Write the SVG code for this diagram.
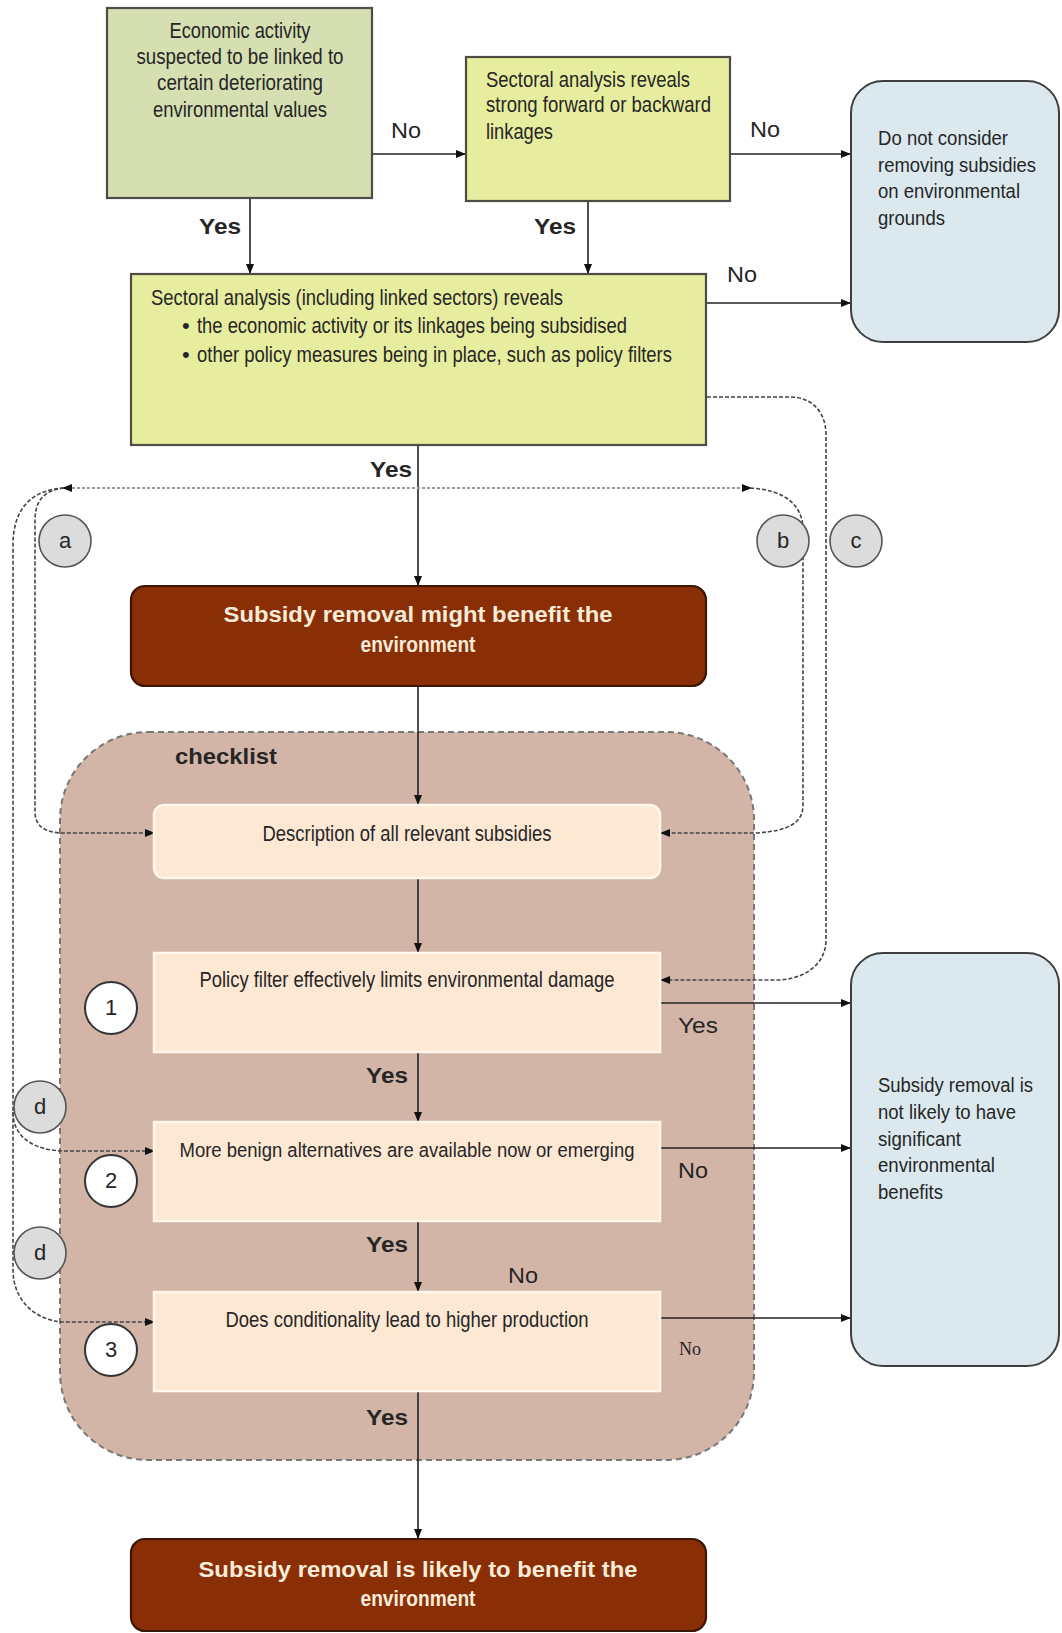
<svg xmlns="http://www.w3.org/2000/svg" width="1062" height="1633" viewBox="0 0 1062 1633">
<defs>
<marker id="ah" viewBox="0 0 10 10" refX="10" refY="5" markerWidth="11" markerHeight="10" markerUnits="userSpaceOnUse" orient="auto-start-reverse"><path d="M0,1 L10,5 L0,9 z" fill="#111"/></marker>
<style>
text{font-family:"Liberation Sans Narrow","Liberation Sans",Arial,sans-serif;fill:#262626;font-size:22px}
.s{font-size:20px}
.b{font-weight:bold}
.w{fill:#f7ecd9;font-weight:bold}
.m{text-anchor:middle}
.ln{fill:none;stroke:#222;stroke-width:1.6}
.dl{fill:none;stroke:#444;stroke-width:1.6;stroke-dasharray:4 2}
.dt{fill:none;stroke:#9a9a9a;stroke-width:2.2;stroke-dasharray:3 2}
.grn{fill:#d5dfb1;stroke:#4d4d45;stroke-width:2.2}
.ylw{fill:#e7ed9e;stroke:#4d4d45;stroke-width:2.2}
.blu{fill:#dbe9ef;stroke:#3f3f3f;stroke-width:2}
.brn{fill:#8a2f05;stroke:#3a1606;stroke-width:2.2}
.pch{fill:#fde8d4;stroke:#fff6ec;stroke-width:2.5}
.ca{fill:#dcdcdc;stroke:#555;stroke-width:1.6}
.cn{fill:#ffffff;stroke:#333;stroke-width:2}
</style>
</defs>
<rect width="1062" height="1633" fill="#ffffff"/>

<g id="checklist">
<rect x="60" y="732" width="694" height="728" rx="88" ry="88" fill="#d3b5a8" stroke="#777" stroke-width="2" stroke-dasharray="6 4"/>
<text class="b" x="175" y="764" textLength="102" lengthAdjust="spacingAndGlyphs">checklist</text>
</g>

<g id="connectors">
<path class="ln" d="M372 154 H466" marker-end="url(#ah)"/>
<path class="ln" d="M730 154 H851" marker-end="url(#ah)"/>
<path class="ln" d="M250 198 V274" marker-end="url(#ah)"/>
<path class="ln" d="M588 201 V274" marker-end="url(#ah)"/>
<path class="ln" d="M706 303 H851" marker-end="url(#ah)"/>
<path class="ln" d="M418 445 V586" marker-end="url(#ah)"/>
<path class="ln" d="M418 686 V805" marker-end="url(#ah)"/>
<path class="ln" d="M418 878 V953" marker-end="url(#ah)"/>
<path class="ln" d="M418 1052 V1122" marker-end="url(#ah)"/>
<path class="ln" d="M418 1221 V1292" marker-end="url(#ah)"/>
<path class="ln" d="M418 1391 V1539" marker-end="url(#ah)"/>
<path class="ln" d="M660 1003 H851" marker-end="url(#ah)"/>
<path class="ln" d="M660 1148 H851" marker-end="url(#ah)"/>
<path class="ln" d="M660 1318 H851" marker-end="url(#ah)"/>
<path class="dt" d="M62 488 H752" marker-start="url(#ah)" marker-end="url(#ah)"/>
<path class="dl" d="M64 488 C45 490 35 500 35 520 V812 C35 826 45 833 64 833 H155" marker-end="url(#ah)"/>
<path class="dl" d="M64 488 C30 490 13 510 13 545 V1270 C13 1300 35 1320 62 1322 H155" marker-end="url(#ah)"/>
<path class="dl" d="M13 1112 C13 1138 35 1150 62 1151 H155" marker-end="url(#ah)"/>
<path class="dl" d="M750 488 C785 490 803 505 803 530 V805 C803 822 790 831 756 833 H660" marker-end="url(#ah)"/>
<path class="dl" d="M707 397 H790 C812 397 826 412 826 435 V940 C826 962 808 978 780 980 H660" marker-end="url(#ah)"/>
</g>

<g id="n-economic">
<rect class="grn" x="107" y="8" width="265" height="190"/>
<text class="m" x="240" y="38" textLength="141" lengthAdjust="spacingAndGlyphs">Economic activity</text>
<text class="m" x="240" y="64" textLength="207" lengthAdjust="spacingAndGlyphs">suspected to be linked to</text>
<text class="m" x="240" y="90" textLength="166" lengthAdjust="spacingAndGlyphs">certain deteriorating</text>
<text class="m" x="240" y="117" textLength="174" lengthAdjust="spacingAndGlyphs">environmental values</text>
</g>

<g id="n-linkages">
<rect class="ylw" x="466" y="57" width="264" height="144"/>
<text x="486" y="87" textLength="204" lengthAdjust="spacingAndGlyphs">Sectoral analysis reveals</text>
<text x="486" y="112" textLength="225" lengthAdjust="spacingAndGlyphs">strong forward or backward</text>
<text x="486" y="139" textLength="67" lengthAdjust="spacingAndGlyphs">linkages</text>
</g>

<g id="n-donot">
<rect class="blu" x="851" y="81" width="208" height="261" rx="32" ry="32"/>
<text class="s" x="878" y="145" textLength="130" lengthAdjust="spacingAndGlyphs">Do not consider</text>
<text class="s" x="878" y="172" textLength="158" lengthAdjust="spacingAndGlyphs">removing subsidies</text>
<text class="s" x="878" y="198" textLength="142" lengthAdjust="spacingAndGlyphs">on environmental</text>
<text class="s" x="878" y="225" textLength="67" lengthAdjust="spacingAndGlyphs">grounds</text>
</g>

<g id="n-sectoral">
<rect class="ylw" x="131" y="274" width="575" height="171"/>
<text x="151" y="305" textLength="412" lengthAdjust="spacingAndGlyphs">Sectoral analysis (including linked sectors) reveals</text>
<text x="182" y="333">•</text>
<text x="197" y="333" textLength="430" lengthAdjust="spacingAndGlyphs">the economic activity or its linkages being subsidised</text>
<text x="182" y="362">•</text>
<text x="197" y="362" textLength="475" lengthAdjust="spacingAndGlyphs">other policy measures being in place, such as policy filters</text>
</g>

<g id="n-might">
<rect class="brn" x="131" y="586" width="575" height="100" rx="14" ry="14"/>
<text class="w m" x="418" y="622" textLength="389" lengthAdjust="spacingAndGlyphs">Subsidy removal might benefit the</text>
<text class="w m" x="418" y="652" textLength="115" lengthAdjust="spacingAndGlyphs">environment</text>
</g>

<g id="n-description">
<rect class="pch" x="154" y="805" width="506" height="73" rx="10" ry="10"/>
<text class="m" x="407" y="841" textLength="289" lengthAdjust="spacingAndGlyphs">Description of all relevant subsidies</text>
</g>

<g id="n-policy">
<rect class="pch" x="154" y="953" width="506" height="99"/>
<text class="m" x="407" y="987" textLength="415" lengthAdjust="spacingAndGlyphs">Policy filter effectively limits environmental damage</text>
</g>

<g id="n-benign">
<rect class="pch" x="154" y="1122" width="506" height="99"/>
<text class="m s" x="407" y="1157" textLength="455" lengthAdjust="spacingAndGlyphs">More benign alternatives are available now or emerging</text>
</g>

<g id="n-conditionality">
<rect class="pch" x="154" y="1292" width="506" height="99"/>
<text class="m" x="407" y="1327" textLength="363" lengthAdjust="spacingAndGlyphs">Does conditionality lead to higher production</text>
</g>

<g id="n-notlikely">
<rect class="blu" x="851" y="953" width="208" height="413" rx="32" ry="32"/>
<text class="s" x="878" y="1092" textLength="155" lengthAdjust="spacingAndGlyphs">Subsidy removal is</text>
<text class="s" x="878" y="1119" textLength="138" lengthAdjust="spacingAndGlyphs">not likely to have</text>
<text class="s" x="878" y="1146" textLength="83" lengthAdjust="spacingAndGlyphs">significant</text>
<text class="s" x="878" y="1172" textLength="117" lengthAdjust="spacingAndGlyphs">environmental</text>
<text class="s" x="878" y="1199" textLength="65" lengthAdjust="spacingAndGlyphs">benefits</text>
</g>

<g id="n-likely">
<rect class="brn" x="131" y="1539" width="575" height="92" rx="14" ry="14"/>
<text class="w m" x="418" y="1577" textLength="439" lengthAdjust="spacingAndGlyphs">Subsidy removal is likely to benefit the</text>
<text class="w m" x="418" y="1606" textLength="115" lengthAdjust="spacingAndGlyphs">environment</text>
</g>

<g id="circle-a"><circle class="ca" cx="65" cy="541" r="26"/><text class="m" x="65" y="548" font-size="20">a</text></g>
<g id="circle-b"><circle class="ca" cx="783" cy="541" r="26"/><text class="m" x="783" y="548" font-size="20">b</text></g>
<g id="circle-c"><circle class="ca" cx="856" cy="541" r="26"/><text class="m" x="856" y="548" font-size="20">c</text></g>
<g id="circle-d1"><circle class="ca" cx="40" cy="1107" r="26"/><text class="m" x="40" y="1114" font-size="20">d</text></g>
<g id="circle-d2"><circle class="ca" cx="40" cy="1253" r="26"/><text class="m" x="40" y="1260" font-size="20">d</text></g>
<g id="circle-1"><circle class="cn" cx="111" cy="1008" r="26"/><text class="m" x="111" y="1015" font-size="20">1</text></g>
<g id="circle-2"><circle class="cn" cx="111" cy="1181" r="26"/><text class="m" x="111" y="1188" font-size="20">2</text></g>
<g id="circle-3"><circle class="cn" cx="111" cy="1350" r="26"/><text class="m" x="111" y="1357" font-size="20">3</text></g>

<g id="labels">
<text x="391" y="138" textLength="30" lengthAdjust="spacingAndGlyphs">No</text>
<text x="750" y="137" textLength="30" lengthAdjust="spacingAndGlyphs">No</text>
<text class="b" x="199" y="234" textLength="42" lengthAdjust="spacingAndGlyphs">Yes</text>
<text class="b" x="534" y="234" textLength="42" lengthAdjust="spacingAndGlyphs">Yes</text>
<text x="727" y="282" textLength="30" lengthAdjust="spacingAndGlyphs">No</text>
<text class="b" x="370" y="477" textLength="42" lengthAdjust="spacingAndGlyphs">Yes</text>
<text x="678" y="1033" textLength="40" lengthAdjust="spacingAndGlyphs">Yes</text>
<text class="b" x="366" y="1083" textLength="42" lengthAdjust="spacingAndGlyphs">Yes</text>
<text x="678" y="1178" textLength="30" lengthAdjust="spacingAndGlyphs">No</text>
<text class="b" x="366" y="1252" textLength="42" lengthAdjust="spacingAndGlyphs">Yes</text>
<text x="508" y="1283" textLength="30" lengthAdjust="spacingAndGlyphs">No</text>
<text x="679" y="1355" style="font-family:'Liberation Serif','Times New Roman',serif;font-size:18px">No</text>
<text class="b" x="366" y="1425" textLength="42" lengthAdjust="spacingAndGlyphs">Yes</text>
</g>
</svg>
